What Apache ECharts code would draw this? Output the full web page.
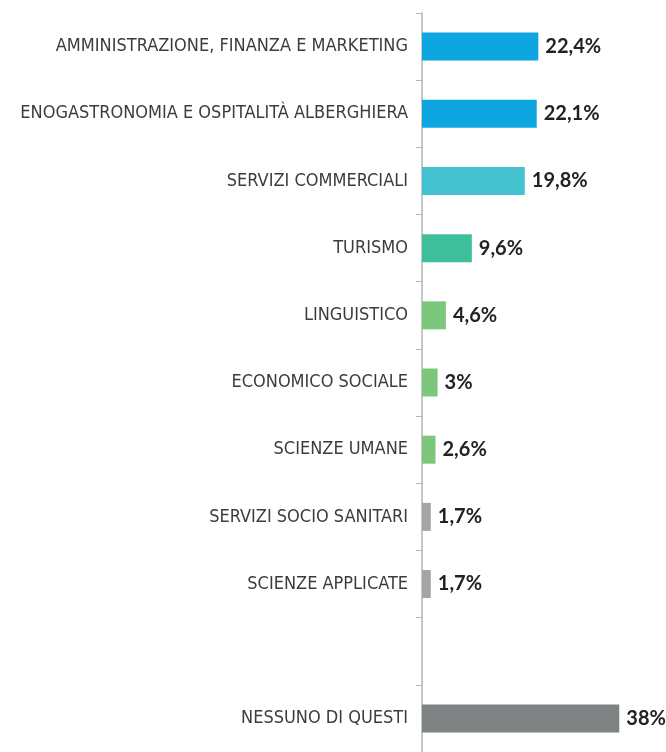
<!DOCTYPE html>
<html>
<head>
<meta charset="utf-8">
<script src="https://cdn.jsdelivr.net/npm/echarts@6/dist/echarts.min.js"></script>
<style>
	html, body { margin: 0; padding: 0; background: #fff; }
	#chart { width: 666px; height: 752px; }
</style>
</head>
<body>
<div id="chart"></div>
<script>
	const categories = [
		"AMMINISTRAZIONE, FINANZA E MARKETING",
		"ENOGASTRONOMIA E OSPITALITÀ ALBERGHIERA",
		"SERVIZI COMMERCIALI",
		"TURISMO",
		"LINGUISTICO",
		"ECONOMICO SOCIALE",
		"SCIENZE UMANE",
		"SERVIZI SOCIO SANITARI",
		"SCIENZE APPLICATE",
		"",
		"NESSUNO DI QUESTI",
	]
	const values = [22.4, 22.1, 19.8, 9.6, 4.6, 3, 2.6, 1.7, 1.7, null, 38]
	const colors = [
		"#0da6e0", "#0da6e0", "#45c2cf", "#3ebf9b", "#7cc77b",
		"#7cc77b", "#7cc77b", "#a4a6a6", "#a4a6a6", "#a4a6a6", "#7f8383",
	]

	const chart = echarts.init(document.getElementById("chart"))

	const options = {
		animation: false,
		grid: {
			top: 13,
			left: 422,
			width: 244,
			height: 744,
		},
		xAxis: {
			type: "value",
			min: 0,
			max: 47,
			show: false,
		},
		yAxis: {
			type: "category",
			inverse: true,
			data: categories,
			axisLine: {
				show: true,
				lineStyle: { color: "#b5b5b5", width: 1.5 },
			},
			axisTick: {
				show: true,
				interval: 0,
				length: 6,
				lineStyle: { color: "#b5b5b5" },
			},
			axisLabel: {
				interval: 0,
				margin: 14,
				color: "#3c3c3c",
				fontFamily: "'DejaVu Sans Condensed', 'DejaVu Sans', sans-serif",
				fontSize: 18,
			},
		},
		series: [
			{
				type: "bar",
				barWidth: 28,
				data: values.map((v, i) => ({
					value: v,
					itemStyle: { color: colors[i] },
				})),
				label: {
					show: true,
					position: "right",
					distance: 7,
					color: "#222",
					fontFamily: "Lato",
					fontWeight: "bold",
					fontSize: 20,
					formatter: (p) => (p.value == null ? "" : String(p.value).replace(".", ",") + "%"),
				},
			},
		],
	}

	chart.setOption(options)
</script>
</body>
</html>
